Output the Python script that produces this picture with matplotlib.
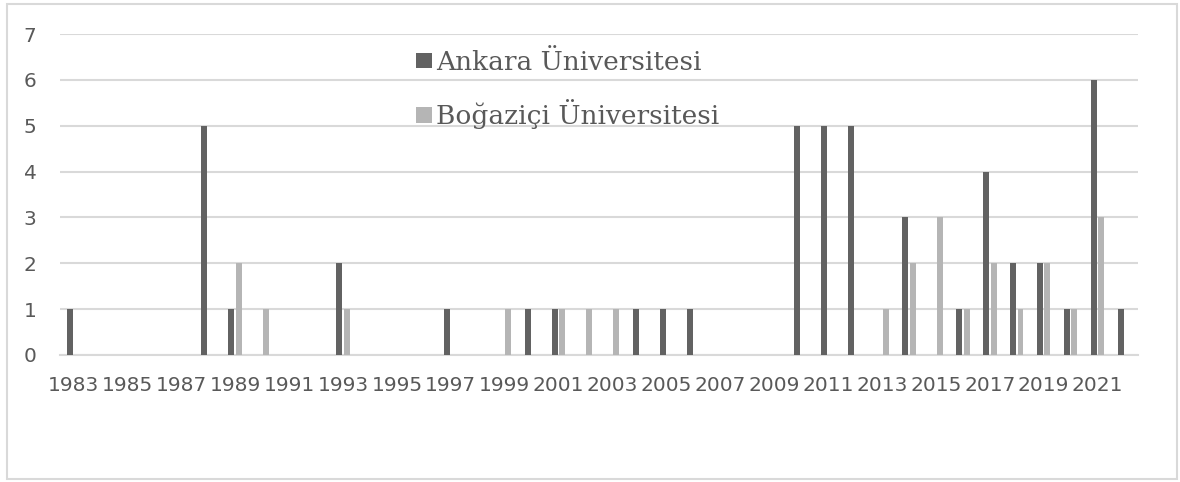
import numpy as np
import matplotlib
matplotlib.use("Agg")
import matplotlib.pyplot as plt
from matplotlib.patches import FancyBboxPatch

years = list(range(1983, 2023))

# non-zero counts per year, everything else is 0
ankara_counts = {1983: 1, 1988: 5, 1989: 1, 1993: 2, 1997: 1, 2000: 1, 2001: 1,
                 2004: 1, 2005: 1, 2006: 1, 2010: 5, 2011: 5, 2012: 5, 2014: 3,
                 2016: 1, 2017: 4, 2018: 2, 2019: 2, 2020: 1, 2021: 6, 2022: 1}
bogazici_counts = {1989: 2, 1990: 1, 1993: 1, 1999: 1, 2001: 1, 2002: 1, 2003: 1,
                   2013: 1, 2014: 2, 2015: 3, 2016: 1, 2017: 2, 2018: 1, 2019: 2,
                   2020: 1, 2021: 3}

ankara = [ankara_counts.get(y, 0) for y in years]
bogazici = [bogazici_counts.get(y, 0) for y in years]
series_names = ["Ankara Üniversitesi", "Boğaziçi Üniversitesi"]

dark = "#626262"
light = "#b5b5b5"
grid_c = "#d9d9d9"
text_c = "#595959"

fig = plt.figure(figsize=(11.8, 4.82), dpi=100)
ax = fig.add_axes([60 / 1180, 127 / 482, 1078 / 1180, 321 / 482])

x = np.arange(len(years))
w = 0.22
ax.bar(x - 0.14, ankara, width=w, color=dark, label=series_names[0], zorder=3)
ax.bar(x + 0.14, bogazici, width=w, color=light, label=series_names[1], zorder=3)

ax.set_xlim(-0.5, len(years) - 0.5)
ax.set_ylim(0, 7)
ax.set_yticks(range(0, 8))
ax.set_xticks(x[::2])
ax.set_xticklabels([str(y) for y in years[::2]])

ax.yaxis.grid(True, color=grid_c, linewidth=1.5, zorder=0)
for s in ["top", "right", "left"]:
    ax.spines[s].set_visible(False)
ax.spines["bottom"].set_color(grid_c)
ax.spines["bottom"].set_linewidth(1.5)
ax.tick_params(axis="both", length=0, labelsize=14.5, colors=text_c)
ax.tick_params(axis="y", pad=17)
ax.tick_params(axis="x", pad=15)

leg = ax.legend(loc="upper left", bbox_to_anchor=(0.316, 1.0), frameon=False,
                prop={"family": "DejaVu Serif", "size": 19},
                handlelength=0.58, handleheight=0.55, handletextpad=0.15,
                labelspacing=0.92, borderaxespad=0.2)
for t in leg.get_texts():
    t.set_color(text_c)

# outer chart border
fig.patches.append(FancyBboxPatch((7 / 1180, 3 / 482), 1170 / 1180, 475 / 482,
                                  boxstyle="square,pad=0", transform=fig.transFigure,
                                  facecolor="none", edgecolor=grid_c, linewidth=1.5))

fig.savefig("out.png", dpi=100, facecolor="white")
